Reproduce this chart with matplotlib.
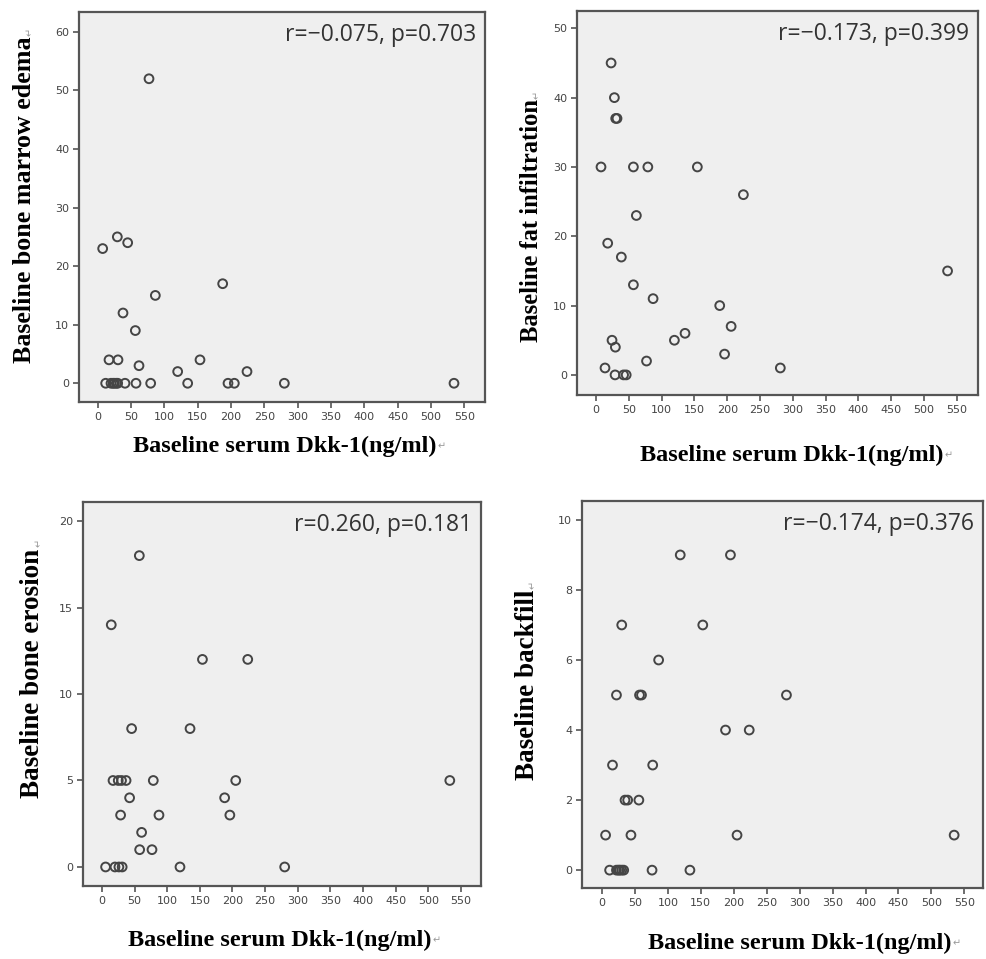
import numpy as np
import matplotlib
matplotlib.use('Agg')
import matplotlib.pyplot as plt

# values (x = baseline serum Dkk-1, ng/ml)
x_edema = [77, 7.5, 29.5, 45, 187.5, 86.5, 38, 56.5, 17, 30.5, 62, 153.5, 120, 224,
           12, 20, 23, 25, 28, 30, 41, 57.5, 79.5, 135, 195.5, 205, 280, 534.5]
y_edema = [52, 23, 25, 24, 17, 15, 12, 9, 4, 4, 3, 4, 2, 2,
           0, 0, 0, 0, 0, 0, 0, 0, 0, 0, 0, 0, 0, 0]

x_fat = [23, 28, 30, 32, 7.6, 57, 79, 154.5, 224.7, 61.5, 17.8, 38.6, 57, 536,
         87, 188.6, 206, 135.7, 119.5, 24.4, 29.5, 77, 196, 13.7, 281, 29, 42, 46]
y_fat = [45, 40, 37, 37, 30, 30, 30, 30, 26, 23, 19, 17, 13, 15,
         11, 10, 7, 6, 5, 5, 4, 2, 3, 1, 1, 0, 0, 0]

x_erosion = [57.3, 14.3, 154, 223.4, 45.5, 135, 17, 25, 30, 37, 78.7, 205, 533,
             42.4, 188, 28.6, 87.4, 196, 60.8, 57.8, 76.7, 5.6, 20, 26, 31, 119.6, 280]
y_erosion = [18, 14, 12, 12, 8, 8, 5, 5, 5, 5, 5, 5, 5,
             4, 4, 3, 3, 3, 2, 1, 1, 0, 0, 0, 0, 0, 0]

x_backfill = [118.8, 195, 30, 153, 86, 22, 57, 60, 280, 187.5, 223.5, 16, 77, 35,
              39, 56, 5.5, 44, 205, 534.5, 11.6, 22, 25, 27, 30, 33, 76, 133.5]
y_backfill = [9, 9, 7, 7, 6, 5, 5, 5, 5, 4, 4, 3, 3, 2,
              2, 2, 1, 1, 1, 1, 0, 0, 0, 0, 0, 0, 0, 0]

stats  = ['r=\u22120.075, p=0.703', 'r=\u22120.173, p=0.399',
          'r=0.260, p=0.181', 'r=\u22120.174, p=0.376']
ylabels = ['Baseline bone marrow edema', 'Baseline fat infiltration',
           'Baseline bone erosion', 'Baseline backfill']
xlabel = 'Baseline serum Dkk-1(ng/ml)'
xticks = list(range(0, 551, 50))

W, H = 987, 959
fig = plt.figure(figsize=(W / 100, H / 100), dpi=100)

# (left, right, top, bottom) of each plot frame in pixels
boxes = [(79, 485, 12, 402), (577, 978, 11, 395),
         (83, 481, 502, 886), (582, 983, 501, 888)]
ylims  = [(-3.2, 63.4), (-2.9, 52.5), (-1.1, 21.1), (-0.51, 10.54)]
ysteps = [10, 10, 5, 2]
xlims  = [(-28, 581), (-29, 582.4), (-29, 580.8), (-30.3, 578.3)]
# label centres in pixels: (xlabel x, xlabel y, ylabel x, ylabel y)
lab_pos = [(285, 446, 25, 200), (792, 455, 532, 221),
           (280, 940, 33, 673), (800, 943, 527, 685)]
ylab_size = [18.7, 17.7, 19.5, 19.5]

datasets = [(x_edema, y_edema), (x_fat, y_fat),
            (x_erosion, y_erosion), (x_backfill, y_backfill)]

serif = ['Liberation Serif', 'DejaVu Serif']
label_texts = []

for i in range(4):
    l, r, t, b = boxes[i]
    ax = fig.add_axes([l / W, (H - b) / H, (r - l) / W, (b - t) / H])
    ax.set_facecolor('#efefef')
    xs, ys = datasets[i]
    ax.scatter(xs, ys, s=40, facecolors='none', edgecolors='#454545', linewidths=1.4, zorder=3)
    ax.set_xlim(*xlims[i])
    ax.set_ylim(*ylims[i])
    ax.set_xticks(xticks)
    ax.set_yticks(np.arange(0, ylims[i][1], ysteps[i]))
    ax.tick_params(direction='out', length=4, width=1.2, color='#555555',
                   labelsize=8, labelcolor='#444444', pad=3)
    for sp in ax.spines.values():
        sp.set_linewidth(1.6)
        sp.set_color('#555555')
    ax.text(0.978, 0.972, stats[i], transform=ax.transAxes, ha='right', va='top',
            fontsize=16.5, color='#333333', family=['Open Sans', 'DejaVu Sans'])

    xl_x, xl_y, yl_x, yl_y = lab_pos[i]
    t1 = fig.text(xl_x / W, 1 - xl_y / H, xlabel, ha='center', va='center',
                  fontsize=17.5, fontweight='bold', family=serif)
    t2 = fig.text(yl_x / W, 1 - yl_y / H, ylabels[i], ha='center', va='center',
                  rotation=90, fontsize=ylab_size[i], fontweight='bold', family=serif)
    label_texts.append((t1, t2))

# small grey paragraph marks left over from the word processor
fig.canvas.draw()
rend = fig.canvas.get_renderer()
for t1, t2 in label_texts:
    bb = t1.get_window_extent(rend)
    fig.text(bb.x1 / W + 0.001, (bb.y0 + 5) / H, '\u21b5', fontsize=7, color='#999999',
             family=['DejaVu Sans'], ha='left', va='bottom')
    bb = t2.get_window_extent(rend)
    fig.text((bb.x1 - 2) / W, bb.y1 / H + 0.001, '\u21b5', fontsize=7, color='#999999',
             family=['DejaVu Sans'], ha='right', va='bottom', rotation=90)

plt.savefig('out.png', dpi=100)
